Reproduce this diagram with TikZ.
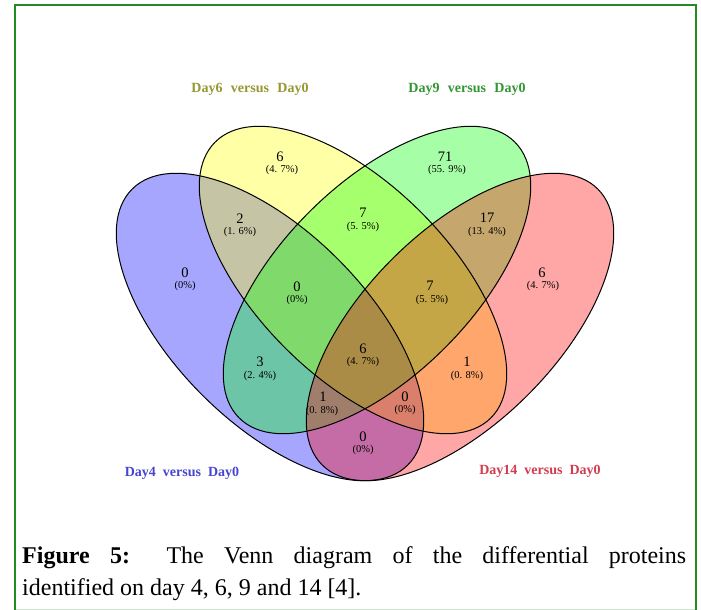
\documentclass[tikz,border=0pt]{standalone}
\usepackage{fontspec}
\setmainfont{Liberation Serif}
\definecolor{frameG}{RGB}{34,139,34}
\definecolor{paleG}{RGB}{205,228,205}
\definecolor{labY}{RGB}{150,150,50}
\definecolor{labG}{RGB}{50,150,50}
\definecolor{labB}{RGB}{70,70,205}
\definecolor{labR}{RGB}{210,60,80}
\definecolor{setB}{RGB}{0,0,255}
\definecolor{setY}{RGB}{255,255,0}
\definecolor{setG}{RGB}{0,255,0}
\definecolor{setR}{RGB}{255,0,0}
\tikzset{
  setfill/.style={fill opacity=0.35},
  setline/.style={draw=black, line width=1pt},
  num/.style={inner sep=0pt, font=\fontsize{14.5}{15}\selectfont},
  pct/.style={inner sep=0pt, font=\fontsize{10.5}{11}\selectfont},
  setlab/.style={inner sep=0pt, font=\fontsize{14}{15}\selectfont\bfseries},
  captxt/.style={inner sep=0pt, anchor=base west, font=\fontsize{24}{28}\selectfont}
}
\begin{document}
\begin{tikzpicture}[x=1pt,y=-1pt]
\useasboundingbox (0,0) rectangle (701,610);
% frame
\draw[paleG, line width=1pt] (15,609) -- (696,609);
\draw[frameG, line width=2.2pt] (15,610) -- (15,5) -- (696,5) -- (696,610);
% set fills
\fill[setB, setfill, rotate around={-45:(270,327)}] (270,327) ellipse [x radius=195pt, y radius=96pt];
\fill[setY, setfill, rotate around={-45:(353,280)}] (353,280) ellipse [x radius=195pt, y radius=96pt];
\fill[setG, setfill, rotate around={45:(377,280)}] (377,280) ellipse [x radius=195pt, y radius=96pt];
\fill[setR, setfill, rotate around={45:(460,327)}] (460,327) ellipse [x radius=195pt, y radius=96pt];
% outlines
\draw[setline, rotate around={-45:(270,327)}] (270,327) ellipse [x radius=195pt, y radius=96pt];
\draw[setline, rotate around={-45:(353,280)}] (353,280) ellipse [x radius=195pt, y radius=96pt];
\draw[setline, rotate around={45:(377,280)}] (377,280) ellipse [x radius=195pt, y radius=96pt];
\draw[setline, rotate around={45:(460,327)}] (460,327) ellipse [x radius=195pt, y radius=96pt];
% set labels
\node[setlab, text=labY] (l6) at (250,89) {Day6\hspace{0.6em}versus\hspace{0.6em}Day0};
\node[setlab, text=labG] (l9) at (467,89) {Day9\hspace{0.6em}versus\hspace{0.6em}Day0};
\node[setlab, text=labB] (l4) at (182,473) {Day4\hspace{0.5em}versus\hspace{0.5em}Day0};
\node[setlab, text=labR] (l14) at (540,471) {Day14\hspace{0.5em}versus\hspace{0.5em}Day0};
% region counts
\node[num] (nY) at (280,157) {6};      \node[pct] (pY) at (282,170) {(4. 7\%)};
\node[num] (nBY) at (240,219) {2};     \node[pct] (pBY) at (240,232) {(1. 6\%)};
\node[num] (nYG) at (363,213) {7};     \node[pct] (pYG) at (363,227) {(5. 5\%)};
\node[num] (nG) at (445,157) {71};     \node[pct] (pG) at (447,170) {(55. 9\%)};
\node[num] (nGR) at (487,218) {17};    \node[pct] (pGR) at (487,232) {(13. 4\%)};
\node[num] (nB) at (185,273) {0};      \node[pct] (pB) at (185,286) {(0\%)};
\node[num] (nBYG) at (297,287) {0};    \node[pct] (pBYG) at (297,300) {(0\%)};
\node[num] (nYGR) at (430,286) {7};    \node[pct] (pYGR) at (432,300) {(5. 5\%)};
\node[num] (nR) at (542,273) {6};      \node[pct] (pR) at (543,286) {(4. 7\%)};
\node[num] (nAll) at (363,349) {6};    \node[pct] (pAll) at (363,362) {(4. 7\%)};
\node[num] (nBG) at (260,362) {3};     \node[pct] (pBG) at (260,376) {(2. 4\%)};
\node[num] (nYR) at (467,362) {1};     \node[pct] (pYR) at (467,376) {(0. 8\%)};
\node[num] (nBYR) at (323,397) {1};    \node[pct] (pBYR) at (322,411) {(0. 8\%)};
\node[num] (nBGR) at (405,397) {0};    \node[pct] (pBGR) at (405,410) {(0\%)};
\node[num] (nBR) at (363,437) {0};     \node[pct] (pBR) at (363,450) {(0\%)};
% caption
\node[captxt] (cap1) at (22,563) {\makebox[664pt][s]{\textbf{Figure 5:} The Venn diagram of the differential proteins}};
\node[captxt] (cap2) at (22,595) {identified on day 4, 6, 9 and 14 [4].};
\end{tikzpicture}
\end{document}
